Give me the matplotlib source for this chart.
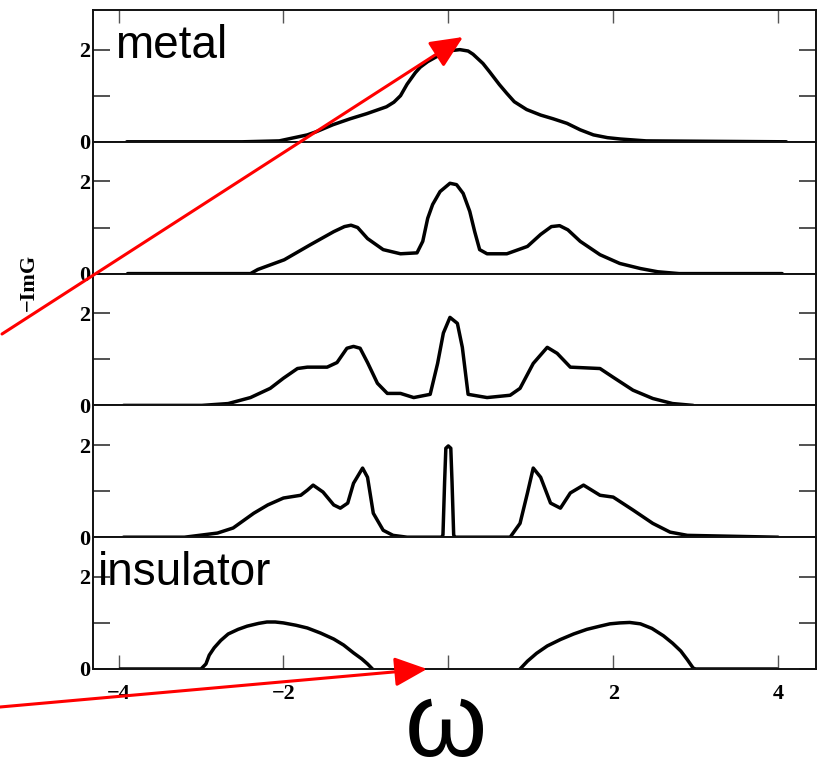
import matplotlib
matplotlib.use('Agg')
import matplotlib.pyplot as plt
import numpy as np
from matplotlib.patches import Rectangle

# ---------------- data ----------------
# panel 1: metal
w1 = [-3.9, -2.5, -2.05, -1.92, -1.71, -1.6, -1.4, -1.19, -0.99, -0.75, -0.66, -0.58, -0.5,
      -0.4, -0.34, -0.25, -0.15, -0.06, 0.04, 0.14, 0.24, 0.3, 0.42, 0.5, 0.62, 0.71, 0.8,
      0.95, 1.12, 1.27, 1.44, 1.6, 1.76, 1.93, 2.09, 2.4, 4.1]
g1 = [0, 0, 0.02, 0.07, 0.15, 0.22, 0.37, 0.5, 0.61, 0.76, 0.86, 1.0, 1.25,
      1.5, 1.62, 1.74, 1.84, 1.91, 1.98, 2.0, 1.97, 1.9, 1.7, 1.52, 1.24, 1.05, 0.87,
      0.7, 0.58, 0.5, 0.4, 0.26, 0.15, 0.09, 0.06, 0.02, 0]

# panel 2
w2 = [-3.89, -2.4, -2.31, -1.99, -1.67, -1.39, -1.26, -1.18, -1.1, -0.98, -0.79, -0.58,
      -0.38, -0.31, -0.25, -0.19, -0.1, 0.02, 0.1, 0.18, 0.26, 0.32, 0.38, 0.47, 0.71,
      0.96, 1.12, 1.25, 1.35, 1.45, 1.6, 1.84, 2.08, 2.33, 2.54, 2.8, 4.05]
g2 = [0, 0, 0.09, 0.3, 0.63, 0.91, 1.02, 1.05, 1.0, 0.76, 0.52, 0.43,
      0.45, 0.7, 1.2, 1.5, 1.78, 1.96, 1.93, 1.74, 1.35, 0.91, 0.52, 0.43, 0.43,
      0.59, 0.85, 1.02, 1.04, 0.95, 0.7, 0.41, 0.22, 0.11, 0.04, 0.0, 0]

# panel 3
w3 = [-3.94, -2.99, -2.67, -2.4, -2.16, -2.0, -1.83, -1.71, -1.47, -1.35, -1.23, -1.15,
      -1.07, -0.98, -0.86, -0.74, -0.58, -0.42, -0.22, -0.13, -0.06, 0.02, 0.11, 0.17,
      0.24, 0.47, 0.75, 0.87, 1.03, 1.2, 1.32, 1.48, 1.84, 2.0, 2.24, 2.48, 2.72, 2.97]
g3 = [0, 0, 0.04, 0.17, 0.37, 0.59, 0.8, 0.83, 0.83, 0.93, 1.24, 1.28,
      1.24, 0.93, 0.48, 0.26, 0.26, 0.17, 0.24, 0.91, 1.57, 1.91, 1.78, 1.26,
      0.24, 0.17, 0.22, 0.37, 0.91, 1.26, 1.13, 0.83, 0.8, 0.61, 0.33, 0.15, 0.04, 0]

# panel 4
w4 = [-3.94, -3.2, -2.8, -2.61, -2.36, -2.19, -2.0, -1.79, -1.71, -1.64, -1.52, -1.39,
      -1.31, -1.22, -1.15, -1.04, -0.98, -0.91, -0.79, -0.67, -0.5, -0.08, -0.065,
      -0.045, -0.03, 0.0, 0.03, 0.045, 0.065, 0.08, 0.75, 0.87, 0.96, 1.03, 1.12, 1.24,
      1.36, 1.48, 1.64, 1.84, 2.0, 2.24, 2.48, 2.69, 2.9, 4.0]
g4 = [0, 0, 0.09, 0.2, 0.52, 0.7, 0.85, 0.91, 1.02, 1.13, 0.98, 0.7,
      0.63, 0.74, 1.17, 1.5, 1.3, 0.52, 0.15, 0.04, 0, 0, 0.05,
      1.2, 1.93, 1.98, 1.93, 1.2, 0.05, 0, 0, 0.3, 0.96, 1.5, 1.3, 0.74,
      0.63, 0.96, 1.13, 0.91, 0.87, 0.59, 0.3, 0.11, 0.04, 0]

# panel 5: insulator (two bands, gap in between)
w5 = [-3.98, -3.0, -2.94, -2.9, -2.84, -2.76, -2.67, -2.55, -2.44, -2.3, -2.2, -2.1, -2.0,
      -1.85, -1.71, -1.55, -1.39, -1.27, -1.15, -1.05, -0.98, -0.92,
      np.nan,
      0.87, 0.96, 1.07, 1.2, 1.36, 1.52, 1.68, 1.84, 1.96, 2.08, 2.2, 2.33, 2.47, 2.61,
      2.72, 2.82, 2.9, 2.97, 3.0, 3.99]
g5 = [0, 0, 0.11, 0.3, 0.46, 0.62, 0.76, 0.86, 0.93, 0.99, 1.02, 1.02, 1.0,
      0.95, 0.89, 0.78, 0.65, 0.52, 0.35, 0.22, 0.11, 0,
      np.nan,
      0, 0.17, 0.34, 0.5, 0.64, 0.76, 0.86, 0.93, 0.98, 1.0, 1.01, 0.98, 0.88, 0.72,
      0.56, 0.39, 0.2, 0.02, 0, 0]

panels = [(w1, g1), (w2, g2), (w3, g3), (w4, g4), (w5, g5)]
xticks = [-4, -2, 0, 2, 4]
xticklabels = ['\u22124', '\u22122', '', '2', '4']
yticks = [0, 2]
yticklabels = ['0', '2']

# ---------------- figure ----------------
W, H = 825, 760
fig = plt.figure(figsize=(W / 100, H / 100), dpi=100)
left, right = 93 / W, 816 / W
top, bottom = 1 - 10 / H, 1 - 669 / H
ph = (top - bottom) / 5
serif = dict(family='Liberation Serif', weight='bold', size=16)

for i, (w, g) in enumerate(panels):
    ax = fig.add_axes([left, top - (i + 1) * ph, right - left, ph])
    ax.plot(w, g, color='black', lw=2.5, solid_joinstyle='round', solid_capstyle='round')
    ax.set_xlim(-4.31, 4.46)
    ax.set_ylim(0, 2.86)
    for s in ax.spines.values():
        s.set_linewidth(1.4)
        s.set_color('#111111')
    ax.set_yticks(yticks)
    ax.set_yticklabels(yticklabels, fontdict=serif)
    ax.set_yticks([1], minor=True)
    ax.tick_params(axis='y', which='both', direction='in', left=True, right=True,
                   length=12, width=1.2, color='#333333', pad=2)
    ax.set_xticks(xticks)
    if i == 0:
        ax.tick_params(axis='x', direction='in', top=True, bottom=False, labelbottom=False,
                       length=9.5, width=1.0, color='#555555')
    elif i == 4:
        ax.set_xticklabels(xticklabels, fontdict=serif)
        ax.tick_params(axis='x', direction='in', top=False, bottom=True,
                       length=10, width=1.0, color='#555555', pad=11)
    else:
        ax.tick_params(axis='x', which='both', top=False, bottom=False, labelbottom=False)

fig.text(29 / W, 1 - 282 / H, '\u2212ImG', rotation=90, ha='center', va='center',
         family='Liberation Serif', weight='bold', size=16)

# ---------------- overlay annotations ----------------
ov = fig.add_axes([0, 0, 1, 1])
ov.set_xlim(0, W)
ov.set_ylim(H, 0)
ov.axis('off')
ov.patch.set_alpha(0)

ov.add_patch(Rectangle((398, 669.5), 120, 95, facecolor='white', edgecolor='none', zorder=1))
ov.text(446, 756, '\u03c9', fontsize=76, family='Liberation Sans', ha='center',
        va='baseline', zorder=2)
ov.text(115, 58, 'metal', fontsize=33, family='Liberation Sans', va='baseline', zorder=2)
ov.text(98, 585, 'insulator', fontsize=33, family='Liberation Sans', va='baseline', zorder=2)

arrow = dict(arrowstyle='-|>,head_length=1.1,head_width=0.5', mutation_scale=18,
             color='#ff0000', lw=2.2, shrinkA=0, shrinkB=0)
ov.annotate('', xy=(463, 37), xytext=(2, 334), arrowprops=arrow, zorder=3)
ov.annotate('', xy=(427, 669), xytext=(0, 707), arrowprops=arrow, zorder=3)

fig.savefig('out.png', dpi=100)
